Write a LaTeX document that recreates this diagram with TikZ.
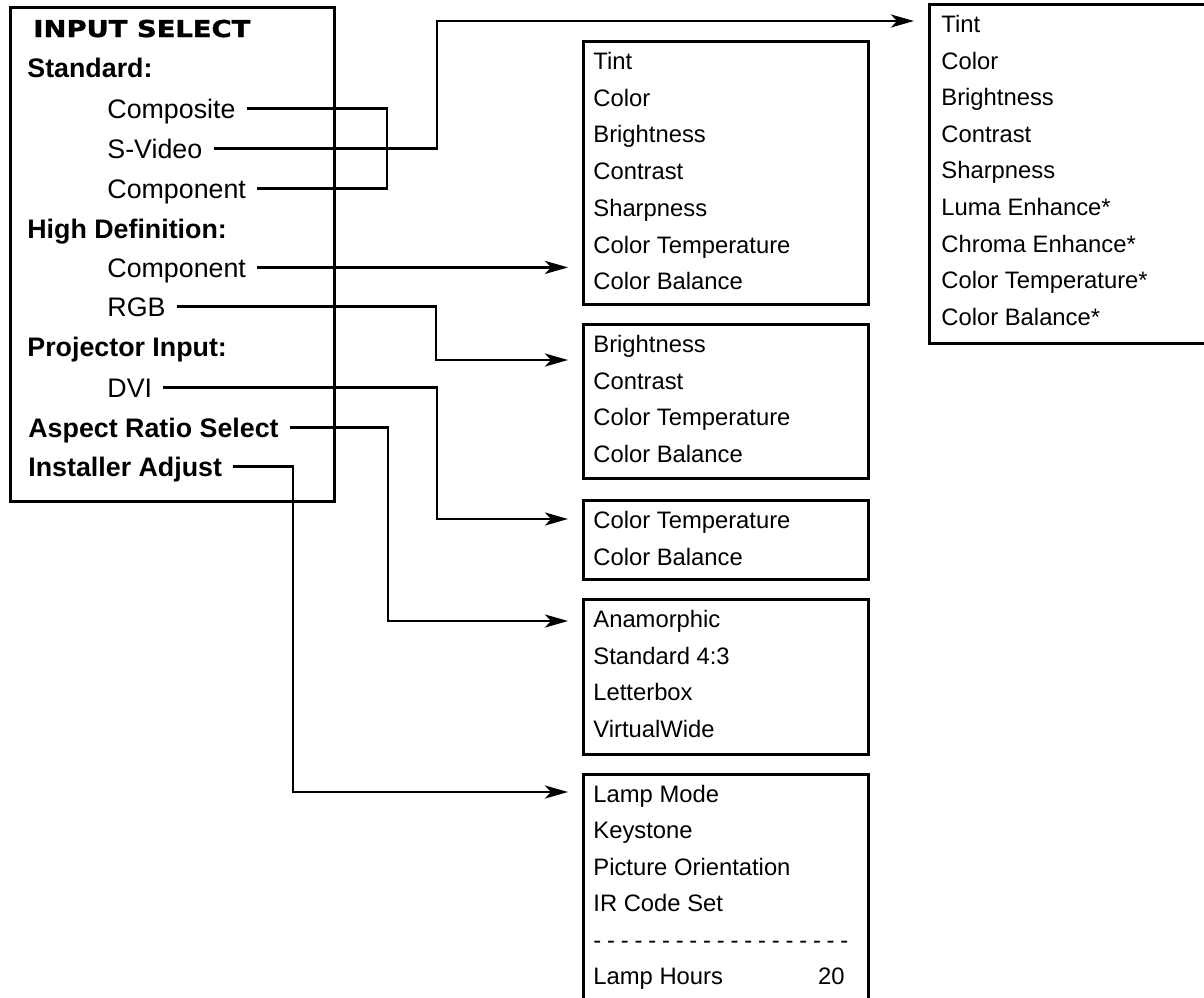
\documentclass[tikz,border=0pt]{standalone}
\usepackage{fontspec}
\setmainfont{Liberation Sans}
\newfontfamily\headfont[FakeStretch=1.18,FakeBold=1.5]{DejaVu Sans}
\usetikzlibrary{arrows.meta,calc}
\newcommand\sepline{\foreach \dashno in {1,...,18}{-\kern2.9pt}-}
\tikzset{
  menubox/.style={draw,line width=1.5pt,anchor=north west,inner sep=0pt},
  boxitem/.style={anchor=base west,inner sep=0pt,font=\fontsize{11.9pt}{14pt}\selectfont},
  srcitem/.style={anchor=base west,inner xsep=5.5pt,inner ysep=0pt,text height=9.6pt,text depth=0pt,font=\fontsize{13.4pt}{16pt}\selectfont},
  srchead/.style={srcitem,font=\fontsize{13.4pt}{16pt}\selectfont\bfseries},
  link/.style={line width=1.4pt},
  feed/.style={link,-{Stealth[length=11.5pt,width=6.5pt,inset=3pt]},shorten >=7pt},
}

\begin{document}
\begin{tikzpicture}[x=0.5pt,y=-0.5pt]
\useasboundingbox (0,0) rectangle (1204,997);

% source list
\node[menubox,minimum width=162pt,minimum height=247pt] (inbox) at (9,6) {};
\node[srchead] (title) at (22,37) {\headfont\bfseries\fontsize{11.6pt}{13pt}\selectfont INPUT SELECT};
\node[srchead] (standard) at (16,77) {Standard:};
\node[srcitem] (composite) at (96,118) {Composite};
\node[srcitem] (svideo) at (96,158) {S-Video};
\node[srcitem] (component) at (96,198) {Component};
\node[srchead] (hidef) at (16,238) {High Definition:};
\node[srcitem] (hdcomp) at (96,277) {Component};
\node[srcitem] (rgb) at (96,316) {RGB};
\node[srchead] (projin) at (16,356) {Projector Input:};
\node[srcitem] (dvi) at (96,397) {DVI};
\node[srchead] (aspect) at (17,437) {Aspect Ratio Select};
\node[srchead] (installer) at (17,476) {Installer Adjust};

% menus
\node[menubox,minimum width=143.5pt,minimum height=169.5pt] (stdmenu) at (928,3) {};
\foreach \t [count=\i] in {Tint,Color,Brightness,Contrast,Sharpness,Luma Enhance*,Chroma Enhance*,Color Temperature*,Color Balance*}
  \node[boxitem] (std-\i) at ($(stdmenu.north west)+(13,{29.5+36.6*(\i-1)})$) {\t};

\node[menubox,minimum width=142.5pt,minimum height=131.5pt] (hdmenu) at (582,40) {};
\foreach \t [count=\i] in {Tint,Color,Brightness,Contrast,Sharpness,Color Temperature,Color Balance}
  \node[boxitem] (hd-\i) at ($(hdmenu.north west)+(11,{29.5+36.7*(\i-1)})$) {\t};

\node[menubox,minimum width=142.5pt,minimum height=77pt] (rgbmenu) at (582,323) {};
\foreach \t [count=\i] in {Brightness,Contrast,Color Temperature,Color Balance}
  \node[boxitem] (rgb-\i) at ($(rgbmenu.north west)+(11,{29.5+36.7*(\i-1)})$) {\t};

\node[menubox,minimum width=142.5pt,minimum height=39.5pt] (dvimenu) at (582,499) {};
\foreach \t [count=\i] in {Color Temperature,Color Balance}
  \node[boxitem] (dvi-\i) at ($(dvimenu.north west)+(11,{29.5+36.7*(\i-1)})$) {\t};

\node[menubox,minimum width=142.5pt,minimum height=77.5pt] (aspmenu) at (582,598) {};
\foreach \t [count=\i] in {Anamorphic,Standard 4:3,Letterbox,VirtualWide}
  \node[boxitem] (asp-\i) at ($(aspmenu.north west)+(11,{29.5+36.7*(\i-1)})$) {\t};

\node[menubox,minimum width=142.5pt,minimum height=118.5pt] (instmenu) at (582,773) {};
\foreach \t [count=\i] in {Lamp Mode,Keystone,Picture Orientation,IR Code Set,\sepline,Lamp Hours}
  \node[boxitem] (inst-\i) at ($(instmenu.north west)+(11,{29.5+36.4*(\i-1)})$) {\t};
\node[boxitem,anchor=base east] (lamphrs) at ($(instmenu.north west)+(263,{29.5+36.4*5})$) {20};

% connectors
\coordinate (stdjoin) at (387,0);
\draw[link] (composite.east) -- (composite.east -| stdjoin) -- (component.east -| stdjoin) -- (component.east);
\coordinate (svbend) at (437,21);
\draw[feed] (svideo.east) -| (svbend) -- (stdmenu.west |- svbend);
\draw[feed] (hdcomp.east) -- (hdmenu.west |- hdcomp.east);
\coordinate (rgbbend) at (436,360);
\draw[feed] (rgb.east) -| (rgbbend) -- (rgbmenu.west |- rgbbend);
\coordinate (dvibend) at (437,519);
\draw[feed] (dvi.east) -| (dvibend) -- (dvimenu.west |- dvibend);
\coordinate (aspbend) at (388,621);
\draw[feed] (aspect.east) -| (aspbend) -- (aspmenu.west |- aspbend);
\coordinate (instbend) at (293,792);
\draw[feed] (installer.east) -| (instbend) -- (instmenu.west |- instbend);

\end{tikzpicture}
\end{document}
